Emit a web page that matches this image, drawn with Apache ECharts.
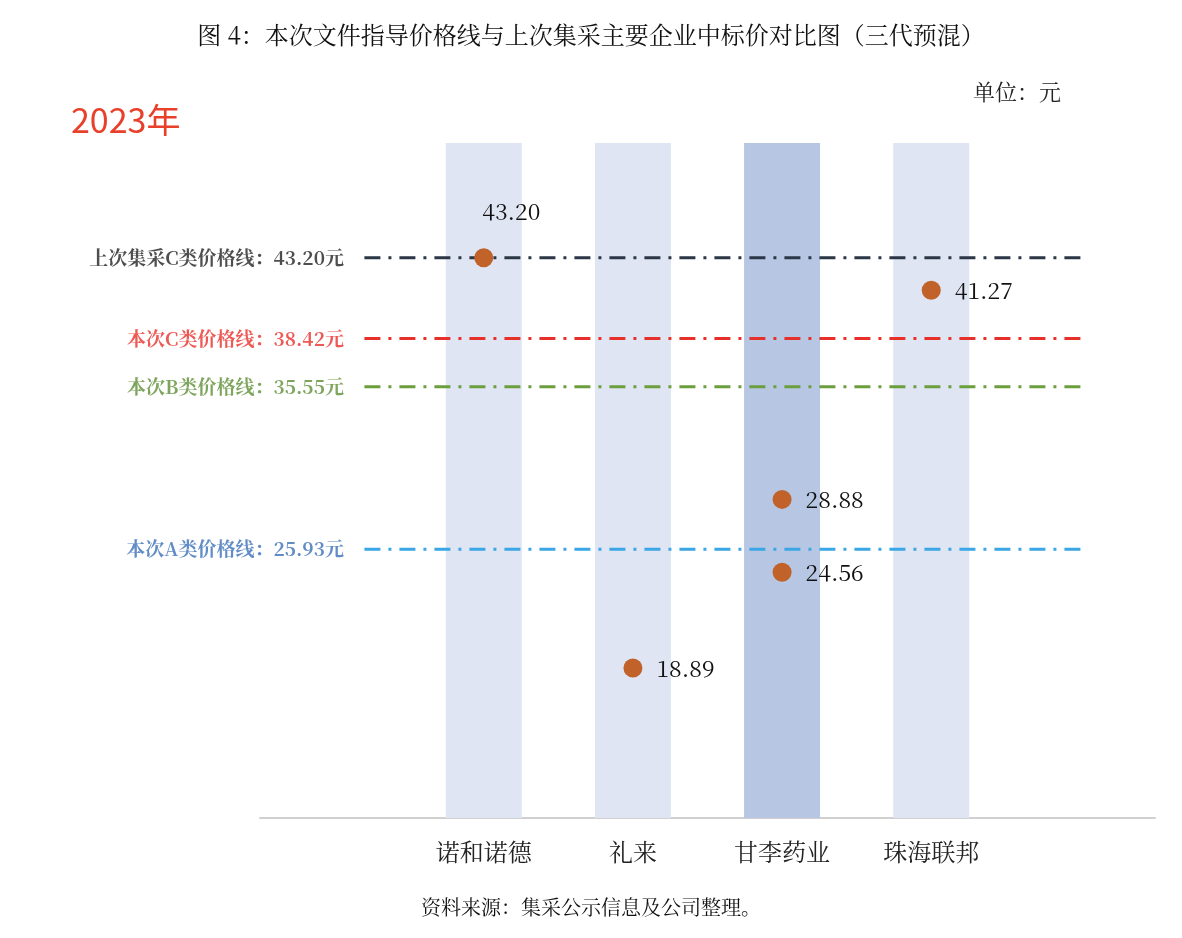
<!DOCTYPE html><html><head><meta charset="utf-8">
<script src="https://cdn.jsdelivr.net/npm/echarts@6/dist/echarts.min.js"></script>
<style>html,body{margin:0;background:#fff}#c{width:1182px;height:938px}</style></head><body><div id="c"></div>
<script>
const categories = ['', '诺和诺德', '礼来', '甘李药业', '珠海联邦', ''];
const bandTop = [null, 50, 50, 50, 50, null];
const points = [[1, 43.20], [2, 18.89], [3, 28.88], [3, 24.56], [4, 41.27]];
const lineNames = ['上次集采C类价格线：43.20元', '本次C类价格线：38.42元', '本次B类价格线：35.55元', '本次A类价格线：25.93元'];
const lineValues = [43.20, 38.42, 35.55, 25.93];
const lineColors = ['#2b3646', '#e8302a', '#6b9e3c', '#3aa6e6'];
const labelColors = ['#222', '#e8302a', '#5e8f34', '#3a6fb8'];
const serif = '"Noto Serif CJK SC","Noto Sans CJK SC",serif';
const chart = echarts.init(document.getElementById('c'));
chart.setOption({
  animation:false,
  title:[
    {text:'图 4：本次文件指导价格线与上次集采主要企业中标价对比图（三代预混）',left:'center',top:18,textStyle:{fontSize:24,fontWeight:'normal',color:'#111',fontFamily:serif}},
    {text:'单位：元',left:968,top:76,textStyle:{fontSize:22,fontWeight:'normal',color:'#222',fontFamily:serif}},
    {text:'2023年',left:66,top:98,textStyle:{fontSize:34,fontWeight:'normal',color:'#e8402a',fontFamily:'"Noto Sans CJK SC",sans-serif'}},
    {text:'资料来源：集采公示信息及公司整理。',left:'center',top:892,textStyle:{fontSize:20,fontWeight:'normal',color:'#111',fontFamily:serif}}
  ],
  grid:{left:260,right:27,top:143,bottom:120},
  xAxis:[
    {type:'category',data:categories,axisLine:{lineStyle:{color:'#d0d0d0',width:2}},axisTick:{show:false},
     axisLabel:{fontSize:24,color:'#222',fontFamily:serif,margin:22}},
    {type:'value',min:0,max:6,show:false}
  ],
  yAxis:{type:'value',min:10,max:50,show:false,splitLine:{show:false}},
  series:[
    {type:'bar',data:bandTop.map((v,i)=>v==null?null:{value:v,itemStyle:{color:i===3?'#b7c7e3':'#dfe5f3'}}),barWidth:76,silent:true,z:1},
    ...lineValues.map((v,i)=>({type:'line',xAxisIndex:1,symbol:'none',z:2,
      data:[[0.7,v],[5.55,v]],lineStyle:{color:lineColors[i],width:3,type:[16,8,3,8]}})),
    {type:'scatter',xAxisIndex:1,symbolSize:1,z:3,itemStyle:{color:'rgba(0,0,0,0)'},
      data:lineValues.map((v,i)=>({value:[0.7,v],label:{show:true,position:'left',distance:20,formatter:lineNames[i],color:labelColors[i],fontSize:19,fontWeight:'bold',fontFamily:serif}}))},
    {type:'scatter',symbolSize:19,z:5,itemStyle:{color:'#c0622a',opacity:1},
      data:points.map((p,i)=>i===0?{value:p,label:{position:[8,-48]}}:p),
      label:{show:true,position:'right',distance:14,formatter:p=>p.value[1].toFixed(2),fontSize:23,color:'#111',fontFamily:serif}}
  ]
});
</script></body></html>
